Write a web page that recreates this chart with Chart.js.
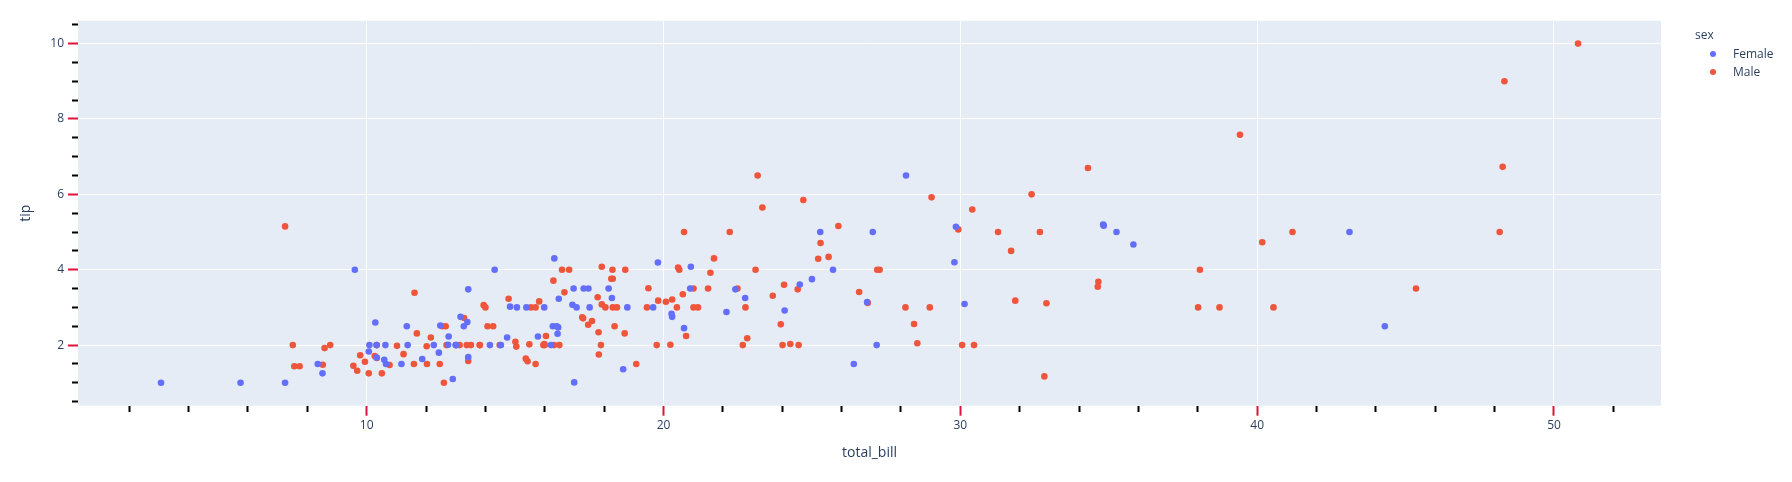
<!DOCTYPE html>
<html>
<head>
<meta charset="utf-8">
<script src="https://cdn.jsdelivr.net/npm/chart.js@4.4.1/dist/chart.umd.min.js"></script>
<style>
  body { margin: 0; background: #fff; }
  #wrap { position: relative; width: 1792px; height: 482px; }
  #legend { position: absolute; left: 1695px; top: 0; font: 12px "Open Sans", verdana, arial, sans-serif; color: #2a3f5f; }
  #legend .title { position: absolute; left: 0; top: 26px; line-height: 18px; white-space: nowrap; }
  #legend .item { position: absolute; left: 0; height: 18px; line-height: 18px; white-space: nowrap; }
  #legend .dot { position: absolute; left: 14.7px; top: 6px; width: 6px; height: 6px; border-radius: 50%; }
  #legend .label { position: absolute; left: 38px; top: 0; }
</style>
</head>
<body>
<div id="wrap">
  <canvas id="chart" width="1792" height="482"></canvas>
  <div id="legend"></div>
</div>
<script>
const femaleBill = [16.99, 24.59, 35.26, 14.83, 10.33, 16.97, 20.29, 15.77, 19.65, 15.06,
  20.69, 16.93, 10.29, 34.81, 26.41, 16.45, 3.07, 17.07, 26.86, 25.28,
  14.73, 10.07, 34.83, 5.75, 16.32, 22.75, 11.35, 15.38, 44.3, 22.42,
  20.92, 14.31, 7.25, 25.71, 17.31, 10.65, 12.43, 24.08, 13.42, 12.48,
  29.8, 14.52, 11.38, 20.27, 11.17, 12.26, 18.26, 8.51, 10.33, 14.15,
  13.16, 17.47, 27.05, 16.43, 8.35, 18.64, 11.87, 29.85, 25.0, 13.39,
  16.21, 17.51, 10.59, 10.63, 9.6, 20.9, 18.15, 19.81, 43.11, 13.0,
  12.74, 13.0, 16.4, 16.47, 12.76, 13.27, 28.17, 12.9, 30.14, 13.42,
  15.98, 16.27, 10.09, 22.12, 35.83, 27.18, 18.78];
const femaleTip = [1.01, 3.61, 5.0, 3.02, 1.67, 3.5, 2.75, 2.23, 3.0, 3.0,
  2.45, 3.07, 2.6, 5.2, 1.5, 2.47, 1.0, 3.0, 3.14, 5.0,
  2.2, 1.83, 5.17, 1.0, 4.3, 3.25, 2.5, 3.0, 2.5, 3.48,
  4.08, 4.0, 1.0, 4.0, 3.5, 1.5, 1.8, 2.92, 1.68, 2.52,
  4.2, 2.0, 2.0, 2.83, 1.5, 2.0, 3.25, 1.25, 2.0, 2.0,
  2.75, 3.5, 5.0, 2.3, 1.5, 1.36, 1.63, 5.14, 3.75, 2.61,
  2.0, 3.0, 1.61, 2.0, 4.0, 3.5, 3.5, 4.19, 5.0, 2.0,
  2.01, 2.0, 2.5, 3.23, 2.23, 2.5, 6.5, 1.1, 3.09, 3.48,
  3.0, 2.5, 2.0, 2.88, 4.67, 2.0, 3.0];
const maleBill = [10.34, 21.01, 23.68, 25.29, 8.77, 26.88, 15.04, 14.78, 10.27, 15.42,
  18.43, 21.58, 16.29, 20.65, 17.92, 39.42, 19.82, 17.81, 13.37, 12.69,
  21.7, 9.55, 18.35, 17.78, 24.06, 16.31, 18.69, 31.27, 16.04, 17.46,
  13.94, 9.68, 30.4, 18.29, 22.23, 32.4, 28.55, 18.04, 12.54, 9.94,
  25.56, 19.49, 38.01, 11.24, 48.27, 20.29, 13.81, 11.02, 18.29, 17.59,
  20.08, 20.23, 15.01, 12.02, 10.51, 17.92, 27.2, 22.76, 17.29, 19.44,
  16.66, 32.68, 15.98, 13.03, 18.28, 24.71, 21.16, 28.97, 22.49, 40.17,
  27.28, 12.03, 21.01, 12.46, 15.36, 20.49, 25.21, 18.24, 14.0, 38.07,
  23.95, 29.93, 11.69, 14.26, 15.95, 8.52, 22.82, 19.08, 16.0, 34.3,
  41.19, 9.78, 7.51, 14.07, 13.13, 17.26, 24.55, 19.77, 48.17, 16.49,
  21.5, 12.66, 13.81, 24.52, 20.76, 31.71, 50.81, 15.81, 7.25, 31.85,
  16.82, 32.9, 17.89, 14.48, 34.63, 34.65, 23.33, 45.35, 23.17, 40.55,
  20.69, 30.46, 23.1, 15.69, 28.44, 15.48, 16.58, 7.56, 10.34, 13.51,
  18.71, 20.53, 26.59, 38.73, 24.27, 30.06, 25.89, 48.33, 28.15, 11.59,
  7.74, 12.16, 8.58, 13.42, 20.45, 13.28, 24.01, 15.69, 11.61, 10.77,
  15.53, 10.07, 12.6, 32.83, 29.03, 22.67, 17.82];
const maleTip = [1.66, 3.5, 3.31, 4.71, 2.0, 3.12, 1.96, 3.23, 1.71, 1.57,
  3.0, 3.92, 3.71, 3.35, 4.08, 7.58, 3.18, 2.34, 2.0, 2.0,
  4.3, 1.45, 2.5, 3.27, 3.6, 2.0, 2.31, 5.0, 2.24, 2.54,
  3.06, 1.32, 5.6, 3.0, 5.0, 6.0, 2.05, 3.0, 2.5, 1.56,
  4.34, 3.51, 3.0, 1.76, 6.73, 3.21, 2.0, 1.98, 3.76, 2.64,
  3.15, 2.01, 2.09, 1.97, 1.25, 3.08, 4.0, 3.0, 2.71, 3.0,
  3.4, 5.0, 2.03, 2.0, 4.0, 5.85, 3.0, 3.0, 3.5, 4.73,
  4.0, 1.5, 3.0, 1.5, 1.64, 4.06, 4.29, 3.76, 3.0, 4.0,
  2.55, 5.07, 2.31, 2.5, 2.0, 1.48, 2.18, 1.5, 2.0, 6.7,
  5.0, 1.73, 2.0, 2.5, 2.0, 2.74, 2.0, 2.0, 5.0, 2.0,
  3.5, 2.5, 2.0, 3.48, 2.24, 4.5, 10.0, 3.16, 5.15, 3.18,
  4.0, 3.11, 2.0, 2.0, 3.55, 3.68, 5.65, 3.5, 6.5, 3.0,
  5.0, 2.0, 4.0, 1.5, 2.56, 2.02, 4.0, 1.44, 2.0, 2.0,
  4.0, 4.0, 3.41, 3.0, 2.03, 2.0, 5.16, 9.0, 3.0, 1.5,
  1.44, 2.2, 1.92, 1.58, 3.0, 2.72, 2.0, 3.0, 3.39, 1.47,
  3.0, 1.25, 1.0, 1.17, 5.92, 2.0, 1.75];

const seriesNames = ['Female', 'Male'];
const seriesColors = ['#636efa', '#EF553B'];

const xMajorTicks = [10, 20, 30, 40, 50];
const xMinorTicks = [2, 4, 6, 8, 12, 14, 16, 18, 22, 24, 26, 28, 32, 34, 36, 38, 42, 44, 46, 48, 52];
const yMajorTicks = [2, 4, 6, 8, 10];
const yMinorTicks = [0.5, 1, 1.5, 2.5, 3, 3.5, 4.5, 5, 5.5, 6.5, 7, 7.5, 8.5, 9, 9.5, 10.5];

const xRange = [0.273, 53.605];
const yRange = [0.392, 10.608];

const FONT = '"Open Sans", verdana, arial, sans-serif';
const TEXT = '#2a3f5f';
const MAJOR_TICK = '#dc143c';

Chart.defaults.font.family = FONT;

const pairs = (xs, ys) => xs.map((x, i) => ({ x, y: ys[i] }));

const plotBg = {
  id: 'plotBg',
  beforeDraw(chart) {
    const { ctx, chartArea: a } = chart;
    ctx.save();
    ctx.fillStyle = '#e5ecf6';
    ctx.fillRect(a.left, a.top, a.right - a.left, a.bottom - a.top);
    ctx.restore();
  }
};

function tickSet(major, minor) {
  return [...major, ...minor].sort((a, b) => a - b).map(v => ({ value: v }));
}

function axis(major, minor, range, title, horizontal) {
  const isMajor = v => major.includes(v);
  return {
    type: 'linear',
    min: range[0],
    max: range[1],
    afterBuildTicks: s => { s.ticks = tickSet(major, minor); },
    afterFit: s => { if (horizontal) s.height = 76.3; else s.width = 78; },
    border: { display: false },
    grid: {
      color: c => (c.tick && isMajor(c.tick.value)) ? '#ffffff' : 'rgba(0,0,0,0)',
      lineWidth: 1,
      tickLength: 10,
      tickWidth: 2,
      tickColor: c => (c.tick && isMajor(c.tick.value)) ? MAJOR_TICK : '#000000',
      tickBorderDash: c => (c.tick && isMajor(c.tick.value)) ? [] : (horizontal ? [6, 100] : [0, 4, 6, 100])
    },
    ticks: {
      autoSkip: false,
      maxRotation: 0,
      padding: horizontal ? 3 : 4,
      color: TEXT,
      font: { size: 12 },
      callback: v => isMajor(v) ? String(v) : ''
    },
    title: {
      display: true,
      text: title,
      color: TEXT,
      font: { size: 14 },
      padding: horizontal ? { top: 0, bottom: 20.6 } : { top: 17.6, bottom: 0 }
    }
  };
}

const chart = new Chart(document.getElementById('chart'), {
  type: 'scatter',
  data: {
    datasets: [
      { label: seriesNames[0], data: pairs(femaleBill, femaleTip), backgroundColor: seriesColors[0] },
      { label: seriesNames[1], data: pairs(maleBill, maleTip), backgroundColor: seriesColors[1] }
    ]
  },
  options: {
    responsive: false,
    animation: false,
    layout: { padding: { left: 0, top: 20.7, right: 131, bottom: 0 } },
    elements: { point: { radius: 3.3, hoverRadius: 3.3, borderWidth: 0 } },
    plugins: { legend: { display: false }, tooltip: { enabled: false } },
    scales: {
      x: axis(xMajorTicks, xMinorTicks, xRange, 'total_bill', true),
      y: axis(yMajorTicks, yMinorTicks, yRange, 'tip', false)
    }
  },
  plugins: [plotBg]
});

// legend, plotly style
const legend = document.getElementById('legend');
const lt = document.createElement('div');
lt.className = 'title';
lt.textContent = 'sex';
legend.appendChild(lt);
seriesNames.forEach((name, i) => {
  const row = document.createElement('div');
  row.className = 'item';
  row.style.top = (44.7 + i * 18.6) + 'px';
  const dot = document.createElement('span');
  dot.className = 'dot';
  dot.style.background = seriesColors[i];
  const label = document.createElement('span');
  label.className = 'label';
  label.textContent = name;
  row.appendChild(dot);
  row.appendChild(label);
  legend.appendChild(row);
});
</script>
</body>
</html>
